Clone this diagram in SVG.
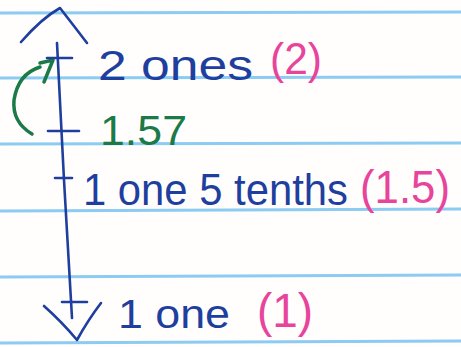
<svg xmlns="http://www.w3.org/2000/svg" width="461" height="347" viewBox="0 0 461 347">
<style>
.rule{stroke:#8ccbf2;stroke-width:3;fill:none}
.ink{stroke:#1f3f9f;stroke-width:2.6;fill:none;stroke-linecap:round;stroke-linejoin:round}
.grn{stroke:#1b7a48;stroke-width:3.5;fill:none;stroke-linecap:round;stroke-linejoin:round}
.t{font-family:"Liberation Sans","DejaVu Sans",sans-serif}
.blue{fill:#1f3f9f}
.green{fill:#1b7a48}
.pink{fill:#e8449c}
</style>
<rect width="461" height="347" fill="#fffefc"/>
<g id="paper-lines">
<line class="rule" x1="0" y1="13" x2="461" y2="12"/>
<line class="rule" x1="0" y1="78" x2="461" y2="77"/>
<line class="rule" x1="0" y1="144" x2="461" y2="143"/>
<line class="rule" x1="0" y1="211" x2="461" y2="209"/>
<line class="rule" x1="0" y1="277" x2="461" y2="275"/>
<line class="rule" x1="0" y1="343" x2="461" y2="341"/>
</g>
<g id="connectors">
<path class="ink" d="M57,43 L64,180 L72,318"/>
<path class="ink" d="M21,42 Q42,18 60,8 Q74,26 87,43"/>
<path class="ink" d="M44,306 Q62,322 77,340 Q88,320 101,303"/>
<path class="grn" d="M32,134 Q12,122 14,100 Q18,74 40,67"/>
<path class="grn" d="M40,63 L53,60 L44,82"/>
</g>
<g id="tick-2"><line class="ink" x1="47" y1="58" x2="72" y2="58"/></g>
<g id="tick-157"><line class="ink" x1="48" y1="131" x2="79" y2="131"/></g>
<g id="tick-15"><line class="ink" x1="55" y1="178" x2="72" y2="178"/></g>
<g id="tick-1"><line class="ink" x1="62" y1="302" x2="87" y2="302"/></g>
<g id="label-2">
<text class="t blue" x="98" y="80" font-size="42" textLength="155" lengthAdjust="spacingAndGlyphs">2 ones</text>
<text class="t pink" x="270" y="74" font-size="44" textLength="52" lengthAdjust="spacingAndGlyphs">(2)</text>
</g>
<g id="label-157">
<text class="t green" x="100" y="145" font-size="42" textLength="87" lengthAdjust="spacingAndGlyphs">1.57</text>
</g>
<g id="label-15">
<text class="t blue" x="83" y="205" font-size="44" textLength="265" lengthAdjust="spacingAndGlyphs">1 one 5 tenths</text>
<text class="t pink" x="360" y="203" font-size="46" textLength="90" lengthAdjust="spacingAndGlyphs">(1.5)</text>
</g>
<g id="label-1">
<text class="t blue" x="118" y="328" font-size="40" textLength="112" lengthAdjust="spacingAndGlyphs">1 one</text>
<text class="t pink" x="257" y="327" font-size="48" textLength="56" lengthAdjust="spacingAndGlyphs">(1)</text>
</g>
</svg>
